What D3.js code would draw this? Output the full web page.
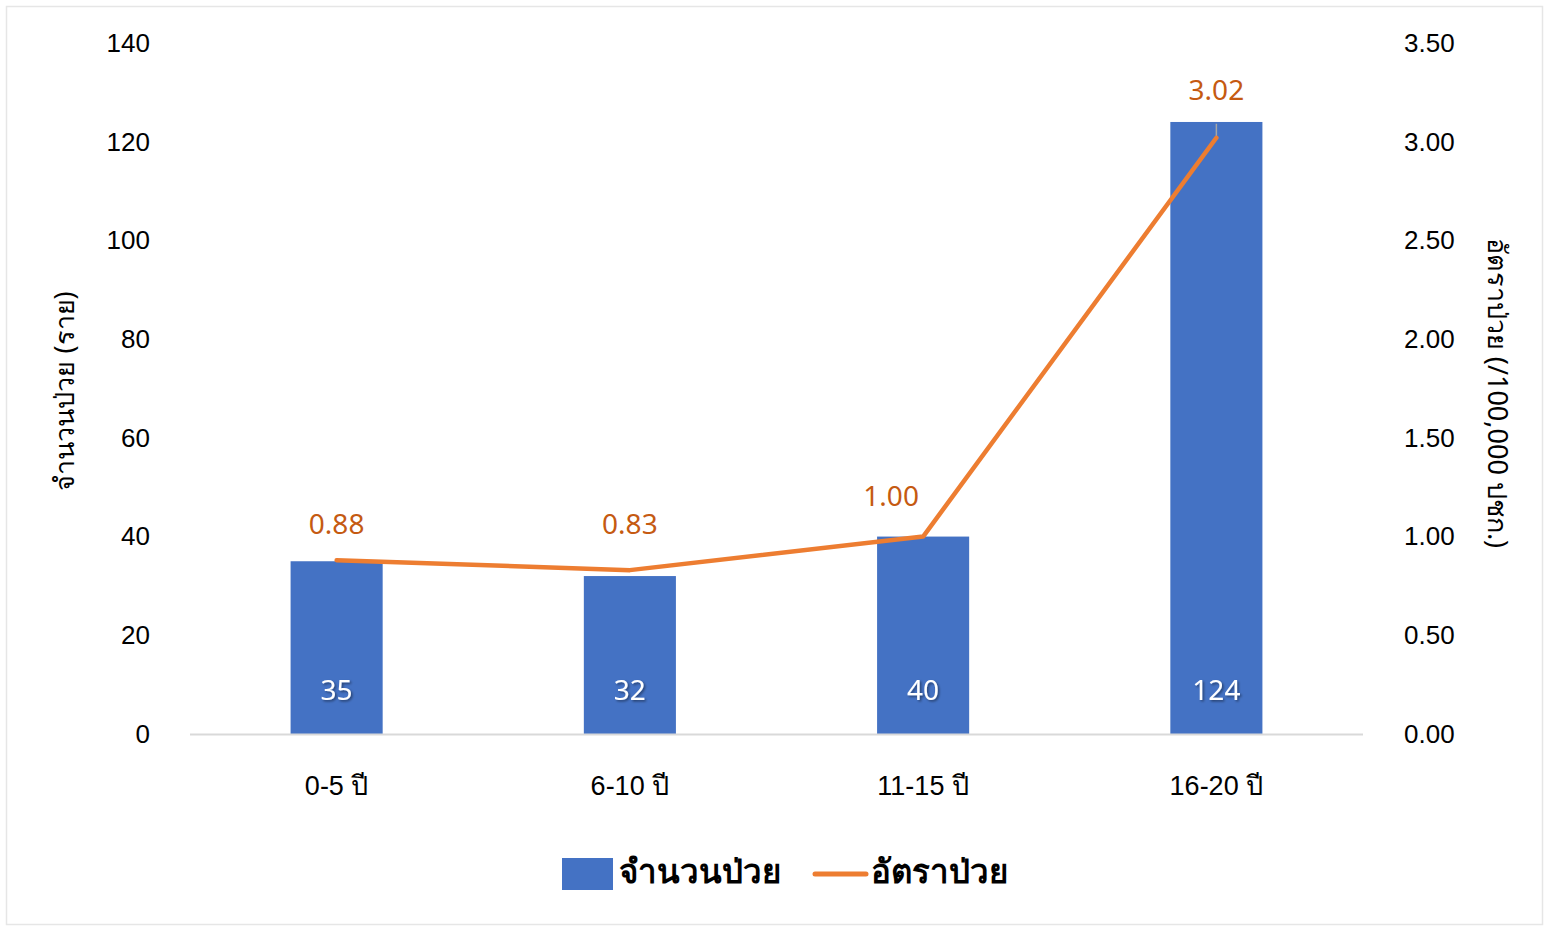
<!DOCTYPE html>
<html><head><meta charset="utf-8">
<script src="https://cdn.jsdelivr.net/npm/d3@7"></script>
<style>body{margin:0;background:#fff}svg{display:block;font-family:"Noto Sans","Open Sans",sans-serif}</style>
</head><body>
<svg id="c" width="1544" height="927"></svg>
<script>
const categories = ["0-5 ปี","6-10 ปี","11-15 ปี","16-20 ปี"];
const cases = [35, 32, 40, 124];
const rates = [0.88, 0.83, 1.00, 3.02];
const leftTicks = [0,20,40,60,80,100,120,140];
const rightTicks = [0,0.5,1,1.5,2,2.5,3,3.5];
const barName = "จำนวนป่วย", lineName = "อัตราป่วย";
const leftTitle = "จำนวนป่วย (ราย)", rightTitle = "อัตราป่วย (/100,000 ปชก.)";

const svg = d3.select("#c");
svg.append("rect").attr("x",6.5).attr("y",6.5).attr("width",1536).attr("height",918)
  .attr("fill","#fff").attr("stroke","#e6e6e6").attr("stroke-width",1.5);

const x0=190, x1=1363, yTop=43, yBot=734;
const x = d3.scaleBand().domain(categories).range([x0,x1]).paddingInner(0.686).paddingOuter(0.343);
const yL = d3.scaleLinear().domain([0,140]).range([yBot,yTop]);
const yR = d3.scaleLinear().domain([0,3.5]).range([yBot,yTop]);

const gl = svg.append("g").attr("transform",`translate(150,0)`)
  .call(d3.axisLeft(yL).tickValues(leftTicks).tickSize(0).tickPadding(0));
gl.select(".domain").remove();
gl.selectAll("text").attr("font-size",26).attr("fill","#000").attr("dy","0.32em");

const gr = svg.append("g").attr("transform",`translate(1404,0)`)
  .call(d3.axisRight(yR).tickValues(rightTicks).tickFormat(d3.format(".2f")).tickSize(0).tickPadding(0));
gr.select(".domain").remove();
gr.selectAll("text").attr("font-size",26).attr("fill","#000").attr("dy","0.32em");

svg.selectAll("rect.bar").data(categories).enter().append("rect").attr("class","bar")
  .attr("x",d=>x(d)).attr("width",x.bandwidth())
  .attr("y",(d,i)=>yL(cases[i])).attr("height",(d,i)=>yBot-yL(cases[i]))
  .attr("fill","#4472C4");

svg.append("line").attr("x1",x0).attr("x2",x1).attr("y1",yBot+0.5).attr("y2",yBot+0.5)
  .attr("stroke","#d9d9d9").attr("stroke-width",2);

const gx = svg.append("g").attr("transform",`translate(0,${yBot})`)
  .call(d3.axisBottom(x).tickSize(0).tickPadding(42));
gx.select(".domain").remove();
gx.selectAll("text").attr("font-size",27).attr("fill","#000");

const defs = svg.append("defs");
const f = defs.append("filter").attr("id","sh").attr("x","-20%").attr("y","-20%").attr("width","140%").attr("height","140%");
f.append("feDropShadow").attr("dx",1.5).attr("dy",1.5).attr("stdDeviation",1).attr("flood-color","#000").attr("flood-opacity",0.45);
svg.selectAll("text.bv").data(categories).enter().append("text").attr("class","bv")
  .attr("x",d=>x(d)+x.bandwidth()/2).attr("y",690).attr("dy","0.35em")
  .attr("text-anchor","middle").attr("font-size",28).attr("fill","#fff").attr("filter","url(#sh)")
  .text((d,i)=>cases[i]);

const lastX = x(categories[3])+x.bandwidth()/2;
svg.append("line").attr("x1",lastX).attr("x2",lastX).attr("y1",yR(rates[3])-14).attr("y2",yR(rates[3]))
  .attr("stroke","#a6a6a6").attr("stroke-width",1.5);

const line = d3.line().x((d,i)=>x(categories[i])+x.bandwidth()/2).y(d=>yR(d));
svg.append("path").datum(rates).attr("d",line).attr("fill","none")
  .attr("stroke","#ED7D31").attr("stroke-width",4.5).attr("stroke-linecap","round").attr("stroke-linejoin","round");

const lblOff = [[0,-36],[0,-46],[-32,-40],[0,-48]];
svg.selectAll("text.lv").data(rates).enter().append("text").attr("class","lv")
  .attr("x",(d,i)=>x(categories[i])+x.bandwidth()/2+lblOff[i][0])
  .attr("y",(d,i)=>yR(d)+lblOff[i][1]).attr("dy","0.35em")
  .attr("text-anchor","middle").attr("font-size",28).attr("fill","#C55A11")
  .text(d=>d3.format(".2f")(d));

svg.append("text").attr("transform","translate(65,391) rotate(-90)").attr("text-anchor","middle")
  .attr("dy","0.35em").attr("font-size",27).attr("fill","#000").text(leftTitle);
svg.append("text").attr("transform","translate(1497,393) rotate(90)").attr("text-anchor","middle")
  .attr("dy","0.35em").attr("font-size",27).attr("fill","#000").text(rightTitle);

const lg = svg.append("g");
lg.append("rect").attr("x",562).attr("y",858).attr("width",51).attr("height",32).attr("fill","#4472C4");
lg.append("text").attr("x",619).attr("y",871).attr("dy","0.35em").attr("font-size",33).attr("font-weight","bold").attr("fill","#000").text(barName);
lg.append("line").attr("x1",815).attr("x2",866).attr("y1",874).attr("y2",874)
  .attr("stroke","#ED7D31").attr("stroke-width",5).attr("stroke-linecap","round");
lg.append("text").attr("x",871).attr("y",871).attr("dy","0.35em").attr("font-size",33).attr("font-weight","bold").attr("fill","#000").text(lineName);
</script>
</body></html>
